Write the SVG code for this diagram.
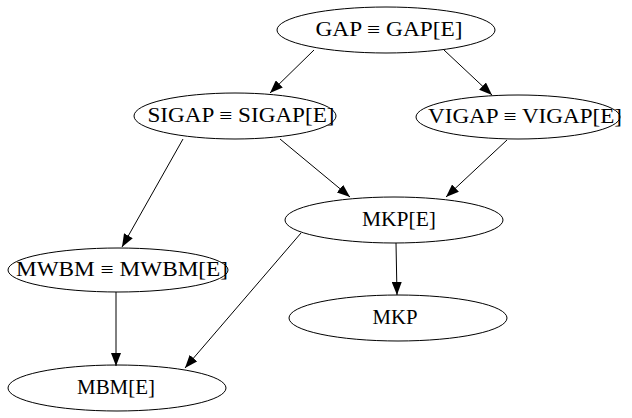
<svg xmlns="http://www.w3.org/2000/svg" width="632" height="418" viewBox="0 0 632 418">
<style>
.n ellipse{fill:none;stroke:#000;stroke-width:1}
.n text{font-family:"Liberation Serif","DejaVu Serif",serif;font-size:20px;fill:#000;text-anchor:middle;dominant-baseline:central}
.e line{stroke:#000;stroke-width:1}
</style>
<defs>
<marker id="a" markerWidth="13" markerHeight="10" refX="13" refY="5" orient="auto" markerUnits="userSpaceOnUse">
<path d="M0,0 L13,5 L0,10 Z" fill="#000"/>
</marker>
</defs>
<rect width="632" height="418" fill="#fff"/>
<g class="e">
<line x1="314" y1="50" x2="270" y2="93" marker-end="url(#a)"/>
<line x1="444" y1="50" x2="492" y2="95" marker-end="url(#a)"/>
<line x1="183" y1="139" x2="122" y2="247" marker-end="url(#a)"/>
<line x1="280" y1="139" x2="350" y2="197" marker-end="url(#a)"/>
<line x1="507" y1="140" x2="446" y2="197" marker-end="url(#a)"/>
<line x1="301" y1="233" x2="185" y2="368" marker-end="url(#a)"/>
<line x1="116" y1="292" x2="116" y2="366" marker-end="url(#a)"/>
<line x1="396" y1="243" x2="397" y2="295" marker-end="url(#a)"/>
</g>
<g id="gap" class="n"><ellipse cx="386" cy="30" rx="109" ry="23"/><text x="389" y="29" textLength="147" lengthAdjust="spacingAndGlyphs">GAP ≡ GAP[E]</text></g>
<g id="sigap" class="n"><ellipse cx="235" cy="116" rx="101" ry="23"/><text x="241" y="115" textLength="187" lengthAdjust="spacingAndGlyphs">SIGAP ≡ SIGAP[E]</text></g>
<g id="vigap" class="n"><ellipse cx="518" cy="117" rx="102" ry="22"/><text x="525" y="116" textLength="194" lengthAdjust="spacingAndGlyphs">VIGAP ≡ VIGAP[E]</text></g>
<g id="mkpe" class="n"><ellipse cx="394" cy="220" rx="109" ry="23"/><text x="399" y="219" textLength="74" lengthAdjust="spacingAndGlyphs">MKP[E]</text></g>
<g id="mwbm" class="n"><ellipse cx="118" cy="270" rx="110" ry="22"/><text x="122" y="269" textLength="212" lengthAdjust="spacingAndGlyphs">MWBM ≡ MWBM[E]</text></g>
<g id="mkp" class="n"><ellipse cx="398" cy="318" rx="109" ry="23"/><text x="395" y="317" textLength="45" lengthAdjust="spacingAndGlyphs">MKP</text></g>
<g id="mbme" class="n"><ellipse cx="117" cy="388" rx="109" ry="23"/><text x="116" y="387" textLength="78" lengthAdjust="spacingAndGlyphs">MBM[E]</text></g>
</svg>
